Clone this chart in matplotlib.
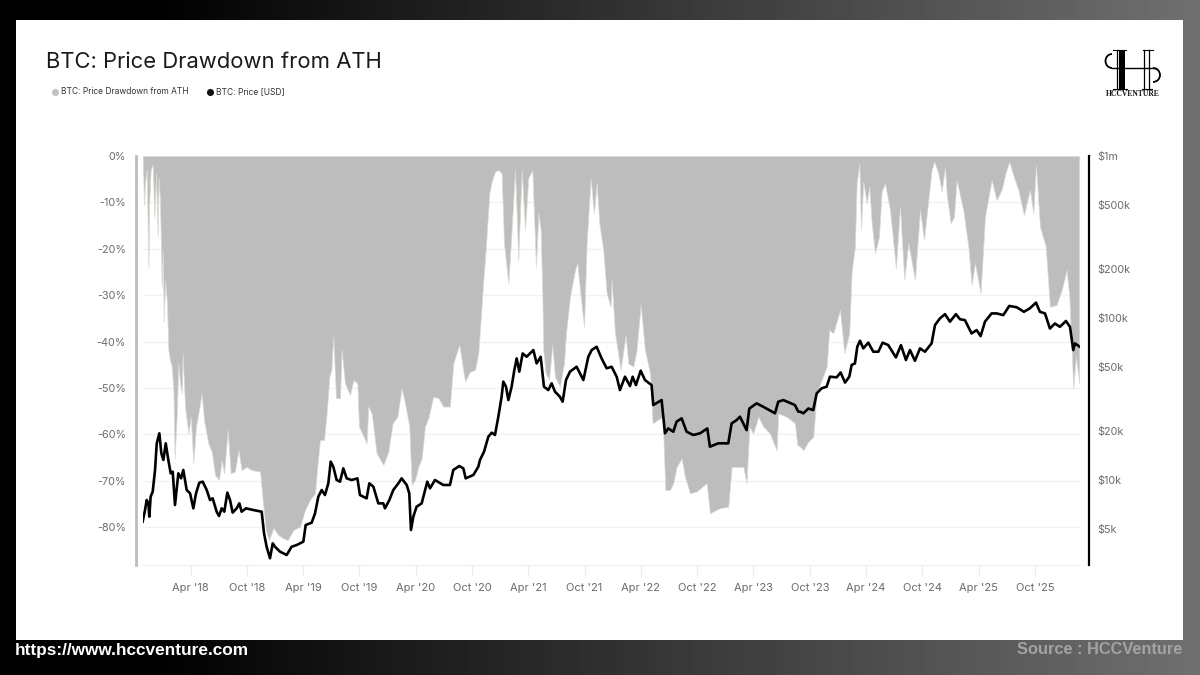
import matplotlib
matplotlib.use('Agg')
import matplotlib.pyplot as plt
import numpy as np
from matplotlib.patches import Rectangle, Arc

plt.rcParams['font.family'] = ['Inter', 'DejaVu Sans']

# dates are decimal years
dd_year = [
    2017.825, 2017.837, 2017.846, 2017.861, 2017.876, 2017.884, 2017.896, 2017.914, 2017.929, 2017.944,
    2017.958, 2017.967, 2017.979, 2017.994, 2018.003, 2018.012, 2018.024, 2018.041, 2018.053, 2018.068,
    2018.083, 2018.098, 2018.109, 2018.127, 2018.142, 2018.157, 2018.172, 2018.180, 2018.201, 2018.231,
    2018.252, 2018.275, 2018.299, 2018.320, 2018.349, 2018.370, 2018.408, 2018.438, 2018.468, 2018.503,
    2018.527, 2018.548, 2018.580, 2018.607, 2018.645, 2018.675, 2018.704, 2018.749, 2018.793, 2018.867,
    2018.891, 2018.918, 2018.947, 2018.986, 2019.030, 2019.074, 2019.113, 2019.163, 2019.222, 2019.267,
    2019.311, 2019.356, 2019.376, 2019.400, 2019.436, 2019.459, 2019.483, 2019.501, 2019.518, 2019.542,
    2019.578, 2019.592, 2019.622, 2019.666, 2019.696, 2019.732, 2019.746, 2019.814, 2019.829, 2019.859,
    2019.903, 2019.962, 2020.007, 2020.045, 2020.087, 2020.125, 2020.155, 2020.193, 2020.214, 2020.244,
    2020.273, 2020.303, 2020.332, 2020.362, 2020.406, 2020.451, 2020.495, 2020.554, 2020.584, 2020.637,
    2020.688, 2020.732, 2020.777, 2020.806, 2020.821, 2020.851, 2020.874, 2020.904, 2020.925, 2020.954,
    2020.984, 2021.013, 2021.034, 2021.073, 2021.102, 2021.132, 2021.161, 2021.191, 2021.221, 2021.250,
    2021.286, 2021.318, 2021.339, 2021.360, 2021.375, 2021.383, 2021.404, 2021.434, 2021.463, 2021.487,
    2021.531, 2021.567, 2021.585, 2021.620, 2021.665, 2021.685, 2021.709, 2021.745, 2021.768, 2021.804,
    2021.833, 2021.857, 2021.881, 2021.916, 2021.946, 2021.981, 2021.990, 2022.020, 2022.070, 2022.114,
    2022.138, 2022.183, 2022.212, 2022.248, 2022.286, 2022.331, 2022.354, 2022.443, 2022.467, 2022.508,
    2022.538, 2022.567, 2022.612, 2022.641, 2022.686, 2022.745, 2022.834, 2022.863, 2022.952, 2023.026,
    2023.056, 2023.100, 2023.159, 2023.189, 2023.213, 2023.248, 2023.293, 2023.337, 2023.396, 2023.455,
    2023.470, 2023.544, 2023.618, 2023.639, 2023.663, 2023.693, 2023.737, 2023.781, 2023.811, 2023.855,
    2023.900, 2023.923, 2023.959, 2024.018, 2024.057, 2024.101, 2024.122, 2024.151, 2024.166, 2024.190,
    2024.205, 2024.225, 2024.255, 2024.279, 2024.299, 2024.329, 2024.365, 2024.388, 2024.418, 2024.462,
    2024.515, 2024.551, 2024.589, 2024.625, 2024.684, 2024.729, 2024.764, 2024.803, 2024.832, 2024.856,
    2024.891, 2024.921, 2024.951, 2024.965, 2025.001, 2025.031, 2025.054, 2025.113, 2025.158, 2025.187,
    2025.217, 2025.267, 2025.306, 2025.365, 2025.409, 2025.454, 2025.492, 2025.522, 2025.557, 2025.602,
    2025.652, 2025.705, 2025.735, 2025.759, 2025.794, 2025.845, 2025.883, 2025.942, 2025.987, 2026.031,
    2026.055, 2026.090, 2026.114, 2026.143,
]
dd_pct = [
    0.0, -10.6, -5.9, -3.0, -24.2, -9.5, -3.0, -1.9, -13.4, -3.7,
    -17.4, -4.5, -9.5, -28.2, -20.3, -35.7, -26.7, -31.8, -41.8, -44.0,
    -45.4, -50.4, -65.2, -56.2, -44.7, -49.0, -51.1, -42.5, -54.0, -59.8,
    -56.2, -66.2, -58.3, -55.5, -51.1, -56.9, -61.9, -63.7, -68.8, -69.8,
    -65.5, -68.4, -59.1, -68.4, -68.0, -63.4, -67.7, -67.0, -67.7, -68.0,
    -74.1, -80.6, -82.8, -80.2, -81.7, -82.4, -82.8, -80.6, -79.9, -76.3,
    -74.1, -72.7, -67.0, -61.2, -61.2, -55.5, -47.6, -46.1, -38.9, -52.2,
    -52.2, -41.8, -49.0, -51.5, -48.3, -49.0, -58.3, -61.9, -54.0, -55.5,
    -64.1, -66.6, -63.7, -57.6, -56.2, -50.1, -53.3, -58.3, -70.9, -69.8,
    -67.0, -65.2, -58.3, -56.5, -51.9, -52.2, -54.0, -54.0, -44.7, -40.7,
    -48.6, -46.5, -46.1, -42.5, -37.5, -26.7, -19.5, -8.0, -5.5, -3.4,
    -3.0, -3.7, -18.8, -27.4, -15.9, -3.0, -22.4, -3.0, -15.9, -4.8,
    -3.0, -23.9, -12.4, -15.9, -30.3, -41.8, -46.8, -48.3, -40.7, -47.6,
    -49.7, -44.7, -38.2, -30.3, -24.6, -23.1, -28.9, -36.8, -18.8, -4.8,
    -12.4, -5.9, -14.5, -20.3, -29.6, -32.5, -26.7, -38.2, -46.1, -38.6,
    -44.7, -45.4, -41.8, -32.1, -41.8, -46.8, -57.6, -56.2, -72.0, -72.0,
    -70.5, -67.0, -65.2, -69.1, -72.7, -72.3, -70.5, -77.0, -75.9, -75.6,
    -67.0, -67.0, -67.0, -70.5, -58.3, -59.8, -56.2, -58.3, -59.8, -63.4,
    -55.5, -56.2, -57.6, -62.3, -62.6, -63.4, -61.6, -60.5, -51.1, -48.3,
    -45.4, -37.5, -38.2, -33.2, -42.5, -38.2, -24.9, -19.5, -5.9, -1.6,
    -15.9, -5.5, -10.2, -6.6, -14.2, -21.0, -17.4, -7.7, -5.9, -11.6,
    -24.2, -10.9, -26.7, -18.8, -26.7, -11.6, -18.1, -9.5, -3.0, -1.2,
    -3.7, -7.7, -2.3, -8.0, -14.5, -13.1, -5.2, -11.6, -19.5, -27.8,
    -23.1, -29.6, -13.1, -5.2, -9.5, -7.3, -3.4, -1.2, -4.1, -7.3,
    -12.7, -7.3, -12.4, -1.9, -15.2, -19.5, -32.5, -32.1, -28.9, -24.6,
    -30.3, -50.1, -43.2, -49.0,
]

price_year = [
    2017.825, 2017.846, 2017.861, 2017.876, 2017.884, 2017.896, 2017.914, 2017.935, 2017.950, 2017.973,
    2017.991, 2018.009, 2018.030, 2018.053, 2018.074, 2018.092, 2018.112, 2018.142, 2018.166, 2018.186,
    2018.216, 2018.246, 2018.275, 2018.299, 2018.328, 2018.358, 2018.394, 2018.423, 2018.447, 2018.482,
    2018.503, 2018.527, 2018.550, 2018.577, 2018.601, 2018.624, 2018.660, 2018.684, 2018.704, 2018.743,
    2018.808, 2018.882, 2018.903, 2018.926, 2018.956, 2018.980, 2019.000, 2019.045, 2019.104, 2019.148,
    2019.193, 2019.252, 2019.273, 2019.326, 2019.356, 2019.385, 2019.415, 2019.444, 2019.474, 2019.495,
    2019.518, 2019.548, 2019.578, 2019.607, 2019.637, 2019.681, 2019.732, 2019.755, 2019.814, 2019.838,
    2019.874, 2019.918, 2019.962, 2019.977, 2020.016, 2020.051, 2020.096, 2020.125, 2020.170, 2020.193,
    2020.208, 2020.229, 2020.258, 2020.303, 2020.353, 2020.377, 2020.421, 2020.495, 2020.554, 2020.584,
    2020.637, 2020.673, 2020.694, 2020.762, 2020.806, 2020.821, 2020.857, 2020.895, 2020.925, 2020.954,
    2020.984, 2021.013, 2021.028, 2021.052, 2021.073, 2021.102, 2021.126, 2021.147, 2021.170, 2021.200,
    2021.235, 2021.295, 2021.324, 2021.360, 2021.389, 2021.428, 2021.457, 2021.487, 2021.531, 2021.555,
    2021.585, 2021.620, 2021.679, 2021.739, 2021.783, 2021.813, 2021.857, 2021.901, 2021.946, 2021.990,
    2022.035, 2022.064, 2022.109, 2022.153, 2022.177, 2022.206, 2022.248, 2022.286, 2022.345, 2022.360,
    2022.434, 2022.464, 2022.493, 2022.538, 2022.567, 2022.612, 2022.656, 2022.715, 2022.775, 2022.840,
    2022.863, 2022.937, 2023.026, 2023.056, 2023.100, 2023.130, 2023.189, 2023.213, 2023.278, 2023.337,
    2023.441, 2023.470, 2023.515, 2023.618, 2023.648, 2023.663, 2023.693, 2023.737, 2023.781, 2023.811,
    2023.855, 2023.900, 2023.929, 2023.989, 2024.024, 2024.063, 2024.101, 2024.122, 2024.151, 2024.172,
    2024.196, 2024.225, 2024.270, 2024.314, 2024.359, 2024.397, 2024.447, 2024.515, 2024.560, 2024.604,
    2024.640, 2024.684, 2024.729, 2024.773, 2024.832, 2024.862, 2024.906, 2024.951, 2024.995, 2025.048,
    2025.084, 2025.128, 2025.187, 2025.232, 2025.267, 2025.306, 2025.365, 2025.409, 2025.469, 2025.522,
    2025.587, 2025.652, 2025.705, 2025.759, 2025.794, 2025.839, 2025.883, 2025.927, 2025.972, 2026.025,
    2026.061, 2026.090, 2026.105, 2026.155,
]
price_usd = [
    5527, 6521, 7518, 7170, 5934, 7883, 8466, 11520, 16830, 19400,
    14600, 13285, 16830, 13285, 10985, 11250, 7000, 10985, 10230, 11520,
    8670, 8265, 6680, 8265, 9620, 9760, 8670, 7518, 7700, 6370,
    5990, 6680, 6370, 8350, 7518, 6285, 6680, 7170, 6370, 6680,
    6521, 6370, 4680, 3870, 3285, 4060, 3870, 3610, 3440, 3870,
    3965, 4160, 5270, 5450, 6220, 7883, 8670, 8070, 9530, 12970,
    12075, 9990, 9760, 11790, 10230, 9990, 10230, 8070, 7700, 9530,
    9090, 7170, 7170, 6680, 7518, 8670, 9530, 10230, 9310, 8265,
    4910, 5934, 6840, 7170, 9760, 8880, 9990, 9310, 9310, 11520,
    12190, 11790, 10230, 10730, 12075, 13285, 14950, 18500, 19580, 18950,
    24580, 32640, 40440, 37660, 31140, 37660, 47700, 56300, 46600, 60400,
    57600, 63400, 52400, 57600, 37660, 35900, 39480, 35100, 32640, 30400,
    41400, 46600, 50000, 41400, 57600, 63400, 66400, 56300, 48900, 50000,
    43400, 35900, 43400, 38000, 43400, 38500, 47300, 41400, 38500, 29000,
    31140, 19400, 20800, 19850, 22900, 24000, 19850, 18950, 19400, 20800,
    16050, 16830, 16830, 22350, 23400, 24580, 20300, 27600, 29700, 28300,
    25800, 30400, 31140, 29000, 26400, 26400, 25800, 27600, 27000, 34200,
    36800, 37660, 43400, 43000, 46100, 39900, 43400, 51300, 52400, 66400,
    72400, 64900, 70400, 61900, 61900, 70400, 68000, 57100, 68000, 55000,
    63400, 54400, 64900, 61900, 69700, 90400, 99400, 105600, 94900, 105600,
    98200, 97000, 80300, 84200, 77200, 94900, 106700, 106700, 104200, 118700,
    116500, 109200, 114700, 124400, 109200, 106700, 86100, 92400, 88200, 95800,
    88200, 63400, 69700, 65900,
]

pct_ticks = [0, -10, -20, -30, -40, -50, -60, -70, -80]
usd_ticks = [5e3, 1e4, 2e4, 5e4, 1e5, 2e5, 5e5, 1e6]
usd_labels = ['$5k', '$10k', '$20k', '$50k', '$100k', '$200k', '$500k', '$1m']
date_labels = ["Apr '18", "Oct '18", "Apr '19", "Oct '19", "Apr '20", "Oct '20", "Apr '21", "Oct '21",
               "Apr '22", "Oct '22", "Apr '23", "Oct '23", "Apr '24", "Oct '24", "Apr '25", "Oct '25"]
date_ticks = [2018.25 + 0.5 * i for i in range(len(date_labels))]

GRAY = '#bdbdbd'
TXT = '#6b6b6b'

fig = plt.figure(figsize=(12, 6.75), dpi=100)

# page: dark gradient, white card, logo and footer, in pixel coords
bg = fig.add_axes([0, 0, 1, 1], zorder=0)
shade = np.interp(np.arange(1200), [150, 1200], [0, 112])
bg.imshow(shade[None, :], cmap='gray', vmin=0, vmax=255, aspect='auto', extent=[0, 1200, 675, 0])
bg.add_patch(Rectangle((16, 20), 1167, 620, color='white', lw=0))
bg.set_xlim(0, 1200)
bg.set_ylim(675, 0)
bg.axis('off')

bg.text(46, 61.5, 'BTC: Price Drawdown from ATH', fontsize=15.85, color='#1a1a1a', va='center', ha='left')
bg.scatter([55], [92], s=26, color='#c3c1bc', lw=0)
bg.text(61, 91.5, 'BTC: Price Drawdown from ATH', fontsize=6.05, color='#333333', va='center')
bg.scatter([210], [92], s=26, color='#111111', lw=0)
bg.text(216, 91.5, 'BTC: Price [USD]', fontsize=6.1, color='#333333', va='center')
bg.text(15, 650, 'https://www.hccventure.com', fontsize=12.4, color='white', weight='bold',
        family='Liberation Sans', va='center')
bg.text(1182, 650, 'Source : HCCVenture', fontsize=11.8, color='#a3a3a3', weight='bold',
        family='Liberation Sans', va='center', ha='right')

# logo
bg.add_patch(Rectangle((1118.5, 50), 6.5, 39, color='black', lw=0))
for x0 in [1116.5, 1144, 1148.5]:
    bg.plot([x0, x0], [50, 89], color='black', lw=0.9)
for x0, x1, y0 in [(1113, 1126, 50), (1143, 1153, 50), (1113, 1127, 89), (1142, 1152, 89)]:
    bg.plot([x0, x1], [y0, y0], color='black', lw=0.8)
bg.plot([1112, 1156], [68, 68], color='black', lw=1.0)
bg.add_patch(Arc((1112, 61), 13, 14, theta1=90, theta2=270, color='black', lw=1.3))
bg.add_patch(Arc((1153, 75), 14, 14, theta1=-90, theta2=90, color='black', lw=1.3))
bg.text(1133, 94.5, 'HCCVENTURE', fontsize=5.5, family='Liberation Serif', weight='bold', color='#111111',
        ha='center', va='center')

ax = fig.add_axes([143 / 1200, 1 - 565 / 675, 937 / 1200, 409 / 675], zorder=1)
ax.patch.set_alpha(0)
ax.set_xlim(2017.828, 2026.15)
ax.set_ylim(-88.15, 0)
ax.set_yticks(pct_ticks)
ax.set_yticklabels([f'{v}%' for v in pct_ticks])
ax.set_xticks(date_ticks)
ax.set_xticklabels(date_labels)
ax.grid(axis='y', color='#f1f1f1', lw=1)
ax.set_axisbelow(True)
ax.fill_between(dd_year, dd_pct, 0, facecolor=GRAY, edgecolor='#dedbd3', lw=0.5)
ax.tick_params(axis='y', length=0, labelsize=7.8, labelcolor=TXT, pad=7.2)
ax.tick_params(axis='x', length=8, color='#ececec', labelsize=8, labelcolor=TXT, pad=5)
for side in ['top', 'right']:
    ax.spines[side].set_visible(False)
ax.spines['bottom'].set_color('#efefef')
ax.spines['left'].set_position(('outward', 5))
ax.spines['left'].set_color(GRAY)
ax.spines['left'].set_linewidth(2)

ax2 = ax.twinx()
ax2.set_yscale('log')
ax2.set_ylim(2985, 1e6)
ax2.plot(price_year, price_usd, color='black', lw=1.9, solid_joinstyle='round')
ax2.set_yticks(usd_ticks)
ax2.set_yticklabels(usd_labels)
ax2.minorticks_off()
ax2.tick_params(axis='y', length=0, labelsize=7.8, labelcolor=TXT, pad=6.2)
for side in ['top', 'left', 'bottom']:
    ax2.spines[side].set_visible(False)
ax2.spines['right'].set_position(('outward', 6.5))
ax2.spines['right'].set_color('black')
ax2.spines['right'].set_linewidth(1.6)

fig.savefig('out.png', dpi=100)
